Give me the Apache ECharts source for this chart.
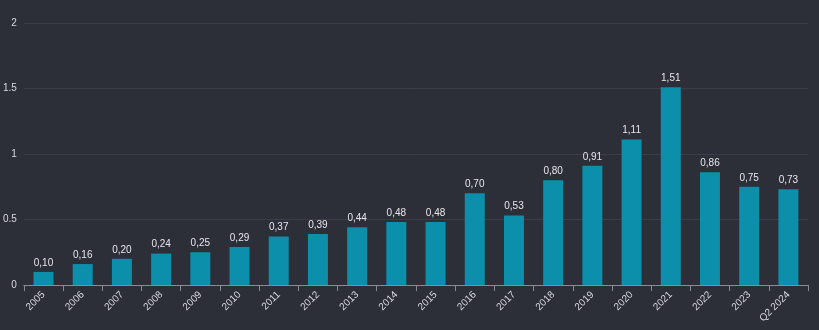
<!DOCTYPE html>
<html><head><meta charset="utf-8">
<script src="https://cdn.jsdelivr.net/npm/echarts@6/dist/echarts.min.js"></script>
<style>html,body{margin:0;padding:0;background:#2c2e38;}#c{width:819px;height:330px;}</style>
</head><body><div id="c"></div>
<script>
const categories = ['2005','2006','2007','2008','2009','2010','2011','2012','2013','2014','2015','2016','2017','2018','2019','2020','2021','2022','2023','Q2 2024'];
const values = [0.10,0.16,0.20,0.24,0.25,0.29,0.37,0.39,0.44,0.48,0.48,0.70,0.53,0.80,0.91,1.11,1.51,0.86,0.75,0.73];
const yTicks = [0,0.5,1,1.5,2];
const chart = echarts.init(document.getElementById('c'));
chart.setOption({
  backgroundColor:'#2c2e38',
  animation:false,
  grid:{left:22,right:11,top:23,bottom:45,containLabel:false},
  xAxis:{type:'category',data:categories,
    axisLine:{lineStyle:{color:'#8a8c94',width:1}},
    axisTick:{show:true,length:6,lineStyle:{color:'#8a8c94'}},
    axisLabel:{color:'#d8d9de',fontSize:10,rotate:45,interval:0,fontFamily:'Liberation Sans, Arial',margin:8}},
  yAxis:{type:'value',min:0,max:2,interval:0.5,
    axisLine:{show:false},axisTick:{show:false},
    splitLine:{lineStyle:{color:'#3b3d4a',width:1}},
    axisLabel:{color:'#d8d9de',fontSize:10,margin:7,fontFamily:'Liberation Sans, Arial',
      formatter:v=>yTicks.includes(v)?String(v):''}},
  series:[{type:'bar',data:values,barWidth:'51%',
    itemStyle:{color:'#0b8fab'},
    label:{show:true,position:'top',color:'#e6e7ea',fontSize:10,fontFamily:'Liberation Sans, Arial',distance:4,
      formatter:p=>p.value.toFixed(2).replace('.',',')}}]
});
</script></body></html>
